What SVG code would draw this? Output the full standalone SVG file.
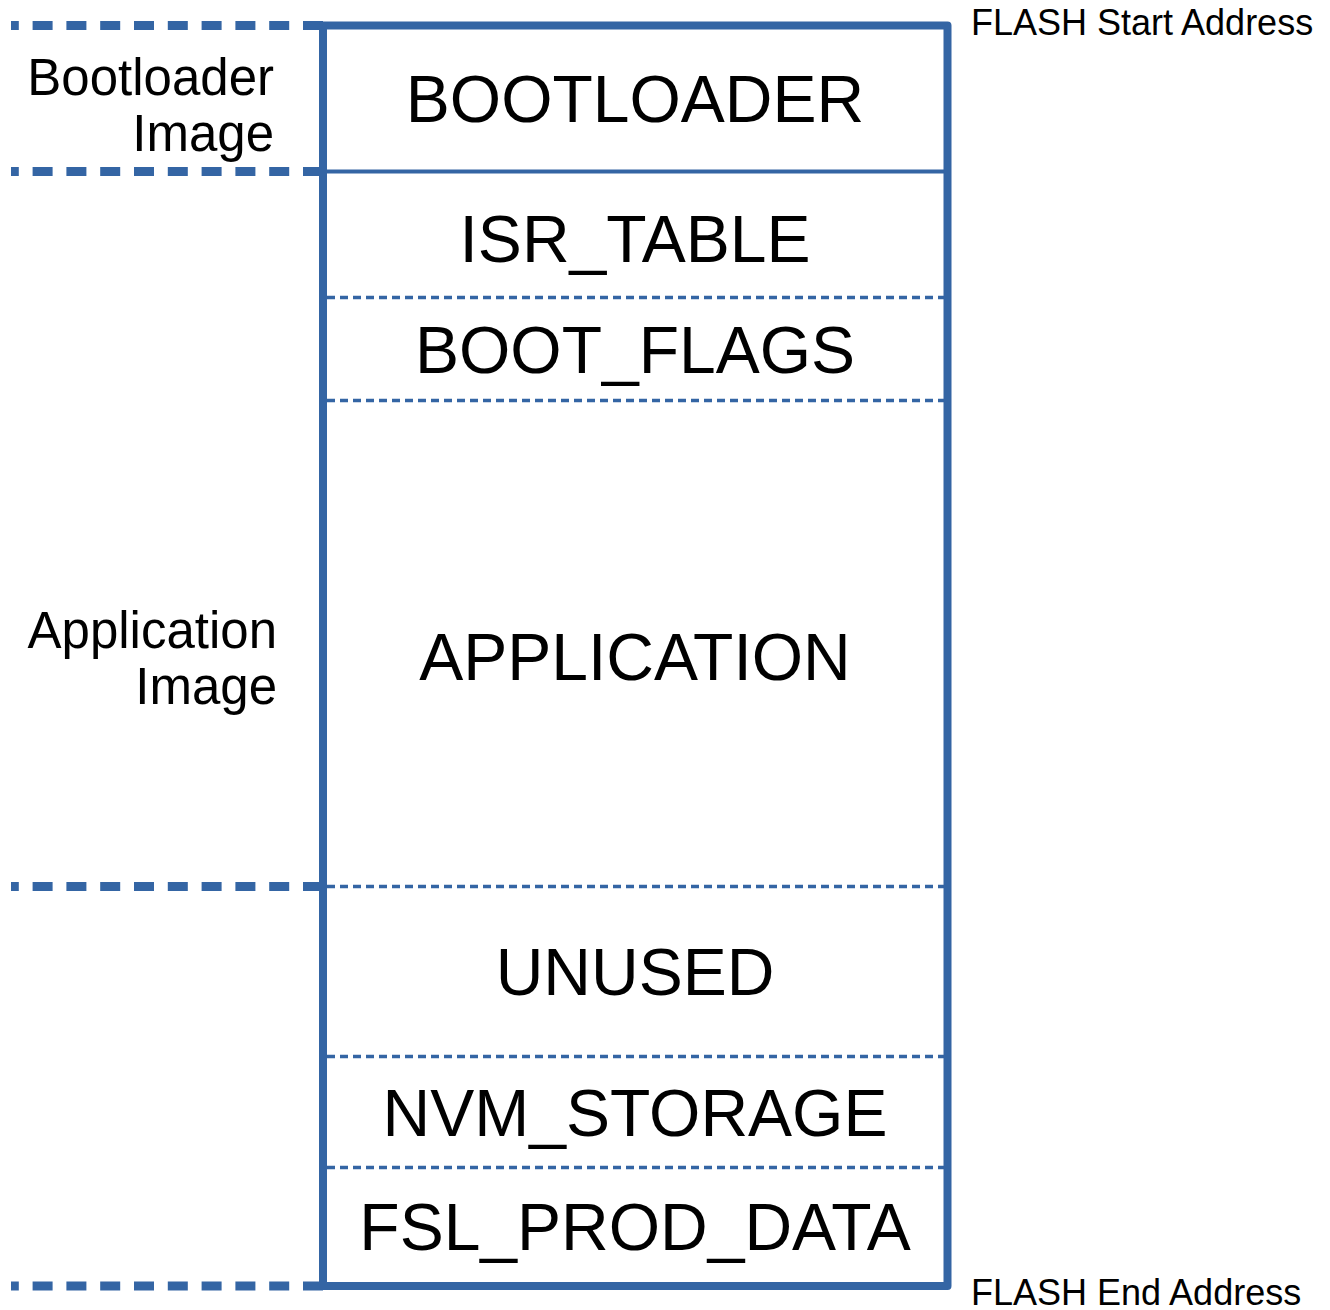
<svg xmlns="http://www.w3.org/2000/svg" width="1330" height="1310" viewBox="0 0 1330 1310">
<style>
.txt{font-family:"Liberation Sans",Arial,sans-serif;fill:#000}
.big{font-size:66px;text-anchor:middle}
.lbl{font-size:51px;text-anchor:end}
.addr{font-size:36px}
.bound{stroke:#3465a4;stroke-width:9;stroke-dasharray:20 13.8;fill:none}
.sep{stroke:#3465a4;stroke-width:3.5;stroke-dasharray:8 5;fill:none}
</style>
<rect width="1330" height="1310" fill="#fff"/>
<g id="connectors">
<line class="bound" x1="323" y1="25.5" x2="11" y2="25.5"/>
<line class="bound" x1="323" y1="171.5" x2="11" y2="171.5"/>
<line class="bound" x1="323" y1="886.5" x2="11" y2="886.5"/>
<line class="bound" x1="323" y1="1286" x2="11" y2="1286"/>
</g>
<g id="memory">
<line x1="323" y1="171.5" x2="947" y2="171.5" stroke="#3465a4" stroke-width="4"/>
<line class="sep" x1="327" y1="297.5" x2="945" y2="297.5"/>
<line class="sep" x1="327" y1="400.5" x2="945" y2="400.5"/>
<line class="sep" x1="327" y1="886.5" x2="945" y2="886.5"/>
<line class="sep" x1="327" y1="1056.5" x2="945" y2="1056.5"/>
<line class="sep" x1="327" y1="1167.5" x2="945" y2="1167.5"/>
<rect x="323" y="25.5" width="624.5" height="1260.5" fill="none" stroke="#3465a4" stroke-width="8" stroke-linejoin="round"/>
</g>
<g id="n-bootloader"><text class="txt big" x="635" y="122">BOOTLOADER</text></g>
<g id="n-isr"><text class="txt big" x="635" y="262">ISR_TABLE</text></g>
<g id="n-bootflags"><text class="txt big" x="635" y="373">BOOT_FLAGS</text></g>
<g id="n-application"><text class="txt big" x="635" y="680">APPLICATION</text></g>
<g id="n-unused"><text class="txt big" x="635" y="995">UNUSED</text></g>
<g id="n-nvm"><text class="txt big" x="635" y="1136">NVM_STORAGE</text></g>
<g id="n-fsl"><text class="txt big" x="635" y="1250">FSL_PROD_DATA</text></g>
<g id="l-bootloader"><text class="txt lbl" x="274" y="95">Bootloader</text><text class="txt lbl" x="274" y="151">Image</text></g>
<g id="l-application"><text class="txt lbl" x="277" y="648">Application</text><text class="txt lbl" x="277" y="704">Image</text></g>
<g id="l-start"><text class="txt addr" x="971" y="35">FLASH Start Address</text></g>
<g id="l-end"><text class="txt addr" x="971" y="1305">FLASH End Address</text></g>
</svg>
